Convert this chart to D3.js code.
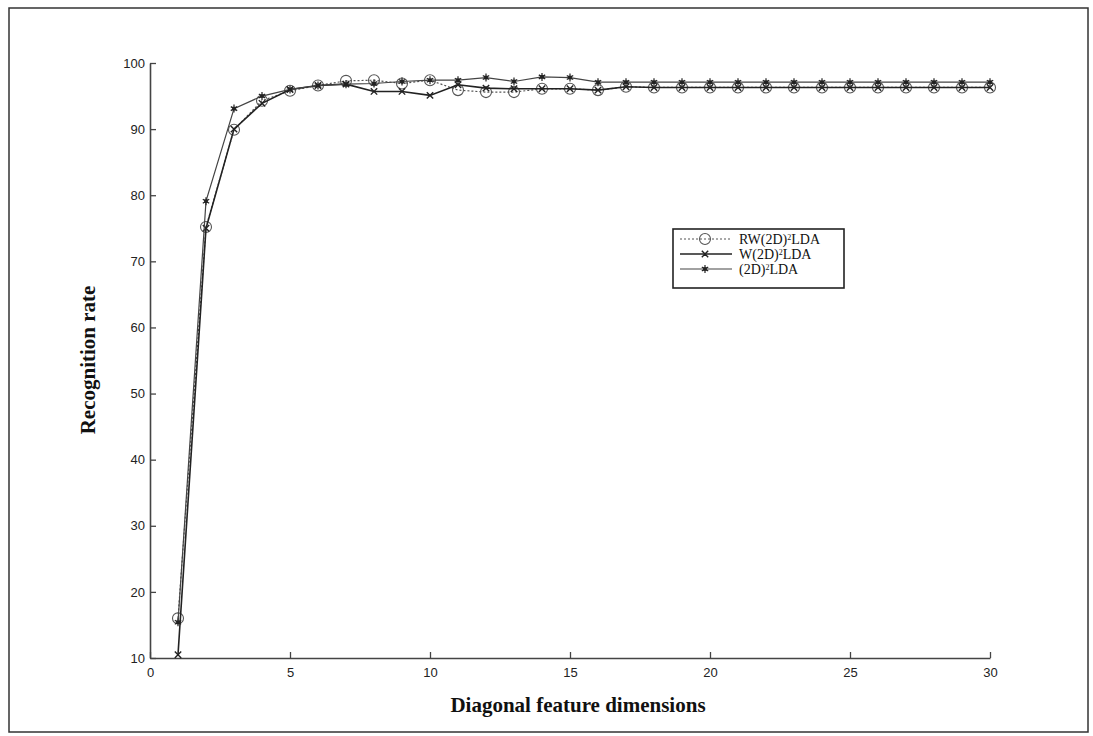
<!DOCTYPE html>
<html><head><meta charset="utf-8">
<script src="https://cdn.jsdelivr.net/npm/d3@7"></script>
<style>body{margin:0;background:#fff}svg{display:block}</style>
</head><body>
<svg id="c" width="1093" height="736"></svg>
<script>
const dims = d3.range(1, 31);
const rwValues = [16.0,75.2,89.9,94.3,95.8,96.6,97.3,97.4,96.9,97.4,95.9,95.6,95.6,96.1,96.1,95.9,96.4,96.3,96.3,96.3,96.3,96.3,96.3,96.3,96.3,96.3,96.3,96.3,96.3,96.3];
const wValues = [10.5,75.0,90.0,93.9,96.0,96.6,96.8,95.7,95.7,95.1,96.7,96.2,96.1,96.1,96.1,95.9,96.4,96.3,96.3,96.3,96.3,96.3,96.3,96.3,96.3,96.3,96.3,96.3,96.3,96.3];
const d2Values = [15.4,79.1,93.1,95.0,96.0,96.6,96.8,96.9,97.2,97.4,97.4,97.8,97.2,97.9,97.8,97.1,97.1,97.1,97.1,97.1,97.1,97.1,97.1,97.1,97.1,97.1,97.1,97.1,97.1,97.1];
const xTicks = [0,5,10,15,20,25,30];
const yTicks = [10,20,30,40,50,60,70,80,90,100];
const seriesNames = ["RW(2D)", "W(2D)", "(2D)"];

const svg = d3.select("#c");
// outer frame
svg.append("rect").attr("x",9).attr("y",8).attr("width",1079).attr("height",724)
  .attr("fill","none").attr("stroke","#333").attr("stroke-width",1.5);

const x = d3.scaleLinear().domain([0,30]).range([150,990]);
const y = d3.scaleLinear().domain([10,100]).range([658,63]);

const axisFont = "'Liberation Sans', Arial, sans-serif";
const gx = svg.append("g").attr("transform","translate(0,658)")
  .call(d3.axisBottom(x).tickValues(xTicks).tickSizeInner(-6).tickSizeOuter(0).tickPadding(10));
const gy = svg.append("g").attr("transform","translate(150,0)")
  .call(d3.axisLeft(y).tickValues(yTicks).tickSizeInner(-6).tickSizeOuter(0).tickPadding(5));
[gx,gy].forEach(g=>{
  g.select(".domain").attr("stroke","#444").attr("stroke-width",1.6);
  g.selectAll(".tick line").attr("stroke","#444").attr("stroke-width",1.3);
  g.selectAll(".tick text").attr("font-family",axisFont).attr("font-size",13).attr("fill","#222");
});

const line = d3.line().x((d,i)=>x(dims[i])).y(d=>y(d));
const series = [
  {vals: rwValues, stroke:"#555", dash:"2,2", width:1.2, marker:"circle"},
  {vals: wValues, stroke:"#222", dash:null, width:1.6, marker:"x"},
  {vals: d2Values, stroke:"#444", dash:null, width:1.2, marker:"star"}
];

function drawMarker(g, type, cx, cy){
  if(type==="circle"){
    g.append("circle").attr("cx",cx).attr("cy",cy).attr("r",5.5)
      .attr("fill","none").attr("stroke","#555").attr("stroke-width",1.1);
  } else if(type==="x"){
    const s=3.2;
    g.append("path").attr("d",`M${cx-s},${cy-s}L${cx+s},${cy+s}M${cx-s},${cy+s}L${cx+s},${cy-s}`)
      .attr("stroke","#222").attr("stroke-width",1.4).attr("fill","none");
  } else {
    const s=4;
    g.append("path").attr("d",`M${cx},${cy-s}L${cx},${cy+s}M${cx-s*0.8},${cy-s*0.5}L${cx+s*0.8},${cy+s*0.5}M${cx-s*0.8},${cy+s*0.5}L${cx+s*0.8},${cy-s*0.5}`)
      .attr("stroke","#222").attr("stroke-width",1.2).attr("fill","none");
    g.append("rect").attr("x",cx-1.8).attr("y",cy-1.8).attr("width",3.6).attr("height",3.6).attr("fill","#222");
  }
}

series.forEach(s=>{
  svg.append("path").datum(s.vals).attr("d",line).attr("fill","none")
    .attr("stroke",s.stroke).attr("stroke-width",s.width).attr("stroke-dasharray",s.dash);
  const g = svg.append("g");
  s.vals.forEach((v,i)=>drawMarker(g, s.marker, x(dims[i]), y(v)));
});

// legend
const lg = svg.append("g");
lg.append("rect").attr("x",673).attr("y",229).attr("width",171).attr("height",59)
  .attr("fill","#fff").attr("stroke","#222").attr("stroke-width",1.6);
series.forEach((s,i)=>{
  const ly = 239 + i*15;
  lg.append("line").attr("x1",680).attr("x2",732).attr("y1",ly).attr("y2",ly)
    .attr("stroke",s.stroke).attr("stroke-width",s.width).attr("stroke-dasharray",s.dash);
  drawMarker(lg, s.marker, 705, ly);
  const t = lg.append("text").attr("x",739).attr("y",ly+5)
    .attr("font-family","'Liberation Serif','Times New Roman',serif").attr("font-size",14).attr("fill","#111");
  t.append("tspan").text(seriesNames[i]);
  t.append("tspan").attr("dy",-4).attr("font-size",8).text("2");
  t.append("tspan").attr("dy",4).text("LDA");
});

// axis titles
svg.append("text").attr("x",578).attr("y",712).attr("text-anchor","middle")
  .attr("font-family","'Liberation Serif','Times New Roman',serif").attr("font-weight","bold")
  .attr("font-size",21).attr("fill","#111").text("Diagonal feature dimensions");
svg.append("text").attr("transform","translate(95,360) rotate(-90)").attr("text-anchor","middle")
  .attr("font-family","'Liberation Serif','Times New Roman',serif").attr("font-weight","bold")
  .attr("font-size",21).attr("fill","#111").text("Recognition rate");
</script>
</body></html>
